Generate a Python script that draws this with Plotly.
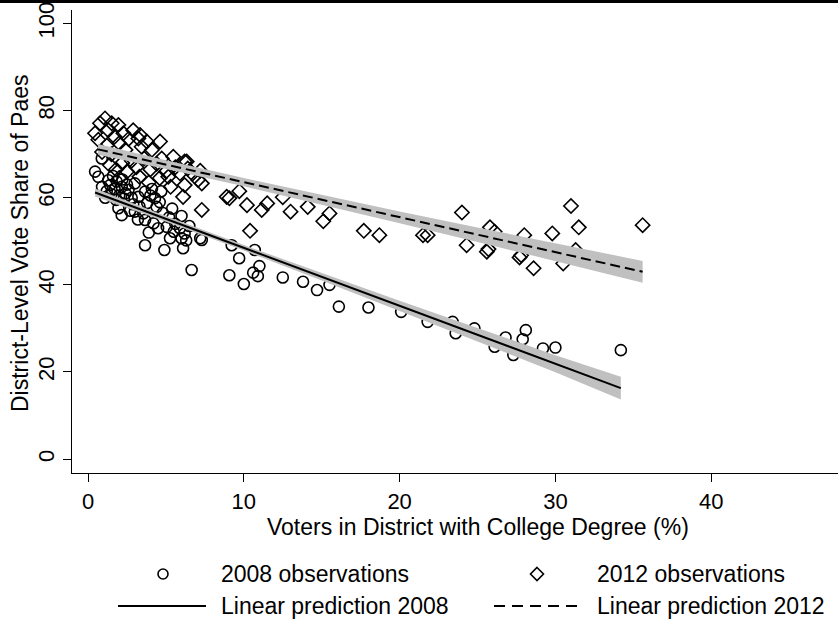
import plotly.graph_objects as go

# ---- observations: share of college-educated voters (%) vs. Paes vote share (%) ----
x2008 = [0.45, 0.66, 0.88, 1.41, 1.84, 2.16, 2.6, 3.0, 3.23, 3.66, 4.3, 4.4,
         1.95, 2.16, 3.55, 3.0, 3.66, 4.2, 5.05, 5.5, 5.26, 6.0, 6.2, 6.1, 7.2,
         3.66, 4.9, 6.65,
         1.2, 1.5, 1.7, 2.0, 2.3, 2.5, 2.8, 1.3, 1.6, 2.2, 2.4, 2.9, 3.3, 3.8,
         4.1, 4.6, 4.8, 5.2, 5.6, 5.9, 6.3, 6.5, 4.5, 3.9, 3.2, 2.7, 1.8, 1.1,
         0.9, 4.0, 4.7, 5.4, 6.0,
         7.3, 9.22, 9.7, 10.7, 11.0, 10.6, 10.9, 9.07, 10.0, 12.5, 13.8, 14.7,
         15.5, 16.1, 18.0,
         20.1, 21.8, 23.4, 23.6, 24.8, 26.1, 26.8, 27.3, 27.9, 28.1, 29.2, 30.0,
         34.2]
y2008 = [66.0, 64.8, 69.0, 62.9, 63.7, 62.5, 61.8, 63.3, 60.2, 61.4, 59.9, 57.9,
         57.6, 56.0, 56.4, 56.8, 54.9, 54.1, 53.3, 52.2, 50.7, 50.7, 51.8, 48.4, 50.7,
         49.1, 48.0, 43.4,
         61.5, 60.8, 62.0, 60.5, 59.8, 63.0, 60.0, 64.0, 65.0, 64.2, 61.0, 58.5, 58.0, 58.8,
         62.0, 59.0, 56.5, 55.5, 54.0, 53.0, 50.2, 53.5, 53.0, 52.0, 55.0, 57.0, 59.5, 60.0,
         62.5, 60.5, 61.5, 57.5, 55.8,
         50.3, 49.1, 46.1, 48.0, 44.3, 42.8, 42.0, 42.2, 40.2, 41.7, 40.7, 38.8,
         40.0, 35.0, 34.8,
         33.8, 31.5, 31.5, 28.9, 30.0, 25.8, 27.9, 23.9, 27.5, 29.6, 25.4, 25.6,
         25.0]

x2012 = [0.45, 0.66, 0.77, 1.09, 1.52, 1.95, 2.27, 1.3, 1.7, 2.0, 1.2, 0.9, 1.5,
         2.4, 2.6, 2.9, 3.23, 3.77, 4.62, 3.34, 3.44, 4.1, 4.73, 5.47, 6.2, 6.33,
         6.4, 5.9, 5.15, 4.6, 6.2, 6.1, 7.06, 2.8, 3.1, 3.6, 4.0, 4.4, 2.2, 1.8,
         2.5, 3.3, 5.0, 5.6, 6.7, 7.2, 1.4, 2.0, 3.9, 5.3,
         7.3, 7.3, 9.07, 9.71, 10.2, 11.15, 11.5, 10.4, 12.5, 13.0, 14.1, 15.1,
         15.5, 17.7, 18.7, 8.9,
         21.5, 21.8, 24.0, 24.3, 25.7, 25.8, 26.1, 27.7, 27.8, 28.0, 28.6, 29.8,
         31.0, 31.5, 35.6, 25.6, 30.5, 31.3]
y2012 = [74.8, 73.3, 77.1, 78.2, 77.1, 76.7, 74.8, 75.5, 74.0, 72.5, 72.0, 70.5, 70.0,
         71.0, 73.5, 75.5, 73.6, 72.9, 72.9, 74.4, 71.7, 71.0, 69.0, 69.4, 68.3, 68.3,
         66.7, 65.6, 64.8, 64.5, 62.9, 60.2, 64.1, 68.5, 67.0, 69.0, 66.5, 67.8, 68.0, 66.5,
         66.0, 64.8, 66.0, 67.0, 65.5, 66.2, 67.5, 64.5, 63.5, 62.5,
         63.3, 57.2, 59.9, 61.5, 58.3, 57.2, 58.7, 52.4, 60.1, 56.8, 57.9, 54.6,
         56.4, 52.4, 51.4, 60.2,
         51.4, 51.4, 56.6, 49.1, 48.2, 53.2, 52.2, 46.3, 46.8, 51.4, 43.8, 51.8,
         58.1, 53.2, 53.7, 47.6, 44.9, 48.0]

# ---- linear predictions with 95% confidence bands ----
fit_x2008 = [0.45, 5, 10, 15, 20, 25, 30, 34.2]
fit_y2008 = [61.2, 55.15, 48.5, 41.85, 35.2, 28.55, 21.9, 16.3]
ci_hw2008 = [0.9, 0.65, 0.62, 0.85, 1.15, 1.55, 1.95, 2.6]

fit_x2012 = [0.64, 5, 10, 15, 20, 25, 30, 35.6]
fit_y2012 = [71.1, 67.6, 63.56, 59.5, 55.5, 51.5, 47.5, 43.0]
ci_hw2012 = [1.25, 1.0, 0.95, 1.1, 1.35, 1.65, 2.0, 2.5]

x_ticks = [0, 10, 20, 30, 40]
y_ticks = [0, 20, 40, 60, 80, 100]

legend_labels = ["2008 observations", "2012 observations",
                 "Linear prediction 2008", "Linear prediction 2012"]
x_title = "Voters in District with College Degree (%)"
y_title = "District-Level Vote Share of Paes"

FONT = "Liberation Sans, Arial, Helvetica, sans-serif"
FS = 23
TICK_FS = 22
BAND = "#c0c0c0"

# plot area in pixels
W, H = 838, 620
L, R, T, B = 72, 838, 10, 473


def px_x(p):
    return (p - L) / (R - L)


def px_y(p):
    return (B - p) / (B - T)


fig = go.Figure()

mk_line = dict(color="black", width=1.6)
fig.add_trace(go.Scatter(x=x2008, y=y2008, mode="markers",
                         marker=dict(symbol="circle-open", size=11, color="black", line=mk_line)))
fig.add_trace(go.Scatter(x=x2012, y=y2012, mode="markers",
                         marker=dict(symbol="diamond-open", size=11, color="black", line=mk_line)))


def band(xs, ys, hw):
    upper = [y + h for y, h in zip(ys, hw)]
    lower = [y - h for y, h in zip(ys, hw)]
    return go.Scatter(x=list(xs) + list(xs)[::-1], y=upper + lower[::-1],
                      fill="toself", fillcolor=BAND, mode="lines",
                      line=dict(width=0, color=BAND), hoverinfo="skip")


fig.add_trace(band(fit_x2008, fit_y2008, ci_hw2008))
fig.add_trace(go.Scatter(x=fit_x2008, y=fit_y2008, mode="lines",
                         line=dict(color="black", width=2)))
fig.add_trace(band(fit_x2012, fit_y2012, ci_hw2012))
fig.add_trace(go.Scatter(x=fit_x2012, y=fit_y2012, mode="lines",
                         line=dict(color="black", width=2, dash="10px,5px")))

x_range = [-1.03, 48.14]
y_range = [-3.2, 103.1]

fig.update_layout(
    width=W, height=H,
    margin=dict(l=L, r=W - R, t=T, b=H - B),
    paper_bgcolor="white", plot_bgcolor="white",
    showlegend=False,
    font=dict(family=FONT, size=FS, color="black"),
    xaxis=dict(range=x_range, tickvals=x_ticks, showgrid=False, zeroline=False,
               showline=True, linecolor="black", linewidth=1.3,
               ticks="outside", ticklen=8, tickwidth=1.3, tickcolor="black",
               tickfont=dict(family=FONT, size=TICK_FS)),
    yaxis=dict(range=y_range, tickvals=y_ticks, showgrid=False, zeroline=False,
               showline=True, linecolor="black", linewidth=1.3,
               ticks="outside", ticklen=8, tickwidth=1.3, tickcolor="black",
               tickangle=-90, tickfont=dict(family=FONT, size=TICK_FS)),
)

shapes = []
annotations = []

# thin rule along the top edge of the page
shapes.append(dict(type="rect", xref="paper", yref="paper",
                   x0=px_x(0), x1=px_x(W), y0=px_y(3), y1=px_y(0),
                   fillcolor="black", line=dict(width=0)))

# axis titles
annotations.append(dict(text=x_title, xref="paper", yref="paper",
                        x=px_x(478), y=px_y(527), xanchor="center", yanchor="middle",
                        showarrow=False, font=dict(family=FONT, size=FS)))
annotations.append(dict(text=y_title, xref="paper", yref="paper", textangle=-90,
                        x=px_x(20), y=px_y(243), xanchor="center", yanchor="middle",
                        showarrow=False, font=dict(family=FONT, size=FS)))

# legend (two columns, two rows)
row1, row2 = 574, 606
col1_txt, col2_txt = 219, 595
# circle key
r = 5
shapes.append(dict(type="circle", xref="paper", yref="paper",
                   x0=px_x(163 - r), x1=px_x(163 + r), y0=px_y(row1 + r), y1=px_y(row1 - r),
                   line=dict(color="black", width=1.6)))
# diamond key
cx, cy, d = 537, row1, 6.5
path = "M {} {} L {} {} L {} {} L {} {} Z".format(
    px_x(cx), px_y(cy - d), px_x(cx + d), px_y(cy),
    px_x(cx), px_y(cy + d), px_x(cx - d), px_y(cy))
shapes.append(dict(type="path", xref="paper", yref="paper", path=path,
                   line=dict(color="black", width=1.6)))
# line keys
shapes.append(dict(type="line", xref="paper", yref="paper",
                   x0=px_x(118), x1=px_x(206), y0=px_y(row2), y1=px_y(row2),
                   line=dict(color="black", width=2)))
shapes.append(dict(type="line", xref="paper", yref="paper",
                   x0=px_x(494), x1=px_x(581), y0=px_y(row2), y1=px_y(row2),
                   line=dict(color="black", width=2, dash="11px,7px")))

for text, xp, yp in [(legend_labels[0], col1_txt, row1), (legend_labels[1], col2_txt, row1),
                     (legend_labels[2], col1_txt, row2), (legend_labels[3], col2_txt, row2)]:
    annotations.append(dict(text=text, xref="paper", yref="paper",
                            x=px_x(xp), y=px_y(yp), xanchor="left", yanchor="middle",
                            showarrow=False, font=dict(family=FONT, size=FS)))

fig.update_layout(shapes=shapes, annotations=annotations)

fig.write_html("out.html")
